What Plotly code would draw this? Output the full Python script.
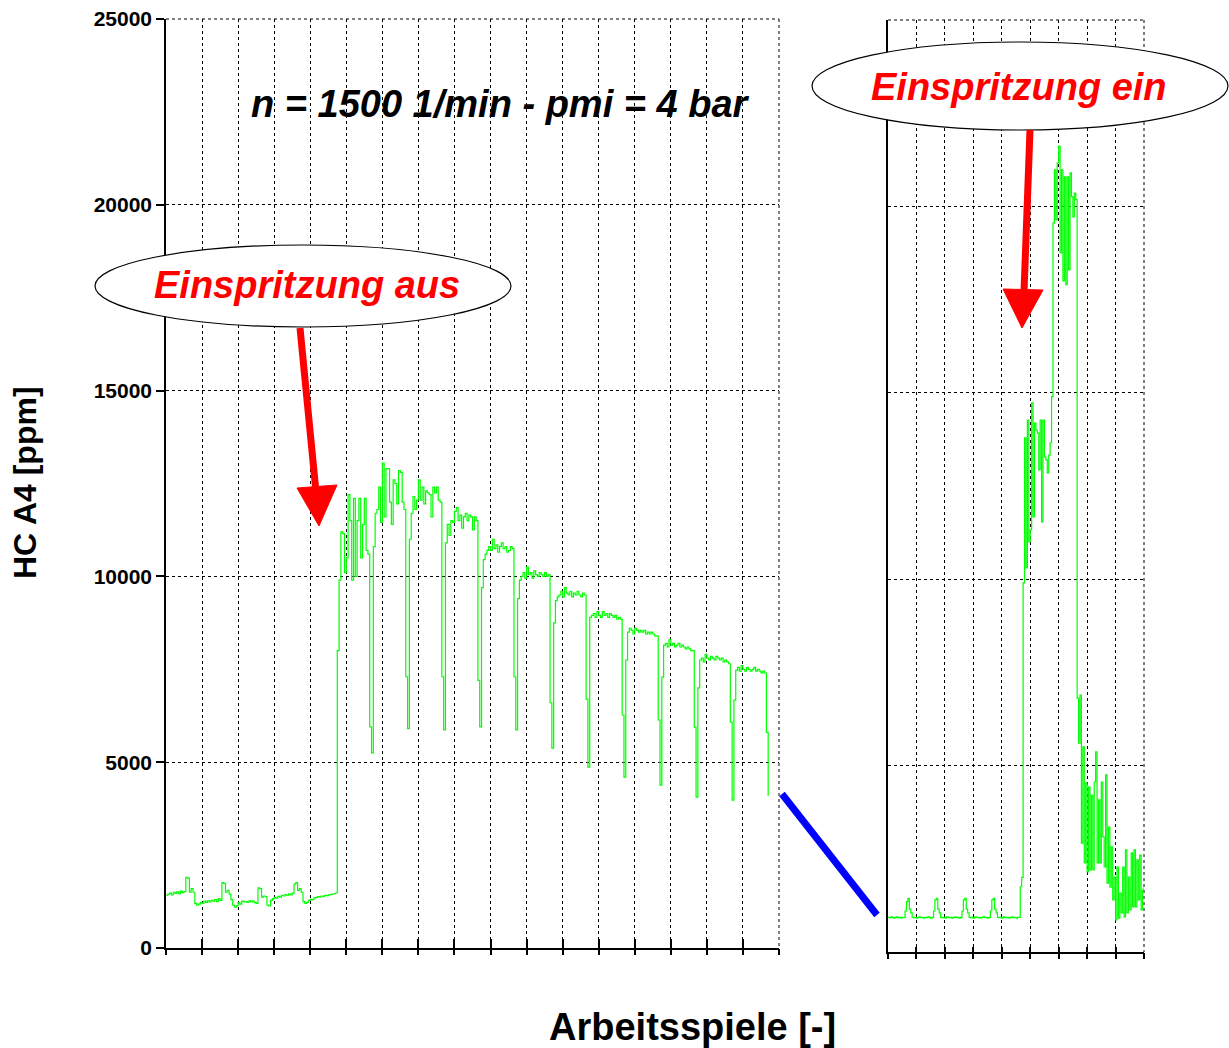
import numpy as np
import plotly.graph_objects as go

W, H = 1229, 1048
FONT = "Liberation Sans, Arial, sans-serif"

# ---------------- data (HC A4 in ppm, one value every 0.5 cycle units) ----------------
# left panel: "Einspritzung aus"
hc_aus = [
    # baseline before injection cut-off
    1420, 1450, 1480, 1430, 1500, 1470, 1510, 1460, 1530, 1490,
    1520, 1900, 1880, 1500, 1600, 1500, 1200, 1150, 1180, 1230,
    1200, 1260, 1230, 1270, 1240, 1280, 1260, 1300, 1250, 1330,
    1280, 1760, 1740, 1500, 1550, 1450, 1300, 1150, 1100, 1140,
    1220, 1180, 1260, 1240, 1250, 1230, 1270, 1240, 1260, 1220,
    1200, 1620, 1600, 1370, 1400, 1380, 1150, 1130, 1280, 1330,
    1360, 1340, 1390, 1370, 1420, 1400, 1440, 1420, 1460, 1430,
    1480, 1720, 1760, 1550, 1600, 1500, 1250, 1200, 1230, 1280,
    1310, 1300, 1350, 1360, 1380, 1370, 1400, 1390, 1420, 1410,
    1430, 1440, 1450, 1460, 1480,
    # block 1
    8000, 9900, 11200, 11150, 10100, 10500, 12200, 11500, 9900, 12100,
    10000, 11500, 12100, 10500, 11400, 12100, 10700, 10600, 5950, 5250,
    # block 2
    10800, 11700, 11800, 12400, 11450, 13050, 11600, 12900, 12900, 12000,
    11400, 12600, 12500, 11950, 12850, 12800, 12000, 11800, 7300, 5900,
    # block 3
    11000, 11700, 12150, 11800, 12050, 12600, 12050, 12400, 11950, 12300,
    12250, 12200, 11600, 12400, 12250, 12400, 12050, 12000, 7300, 5870,
    # block 4
    10900, 11400, 11100, 11500, 11450, 11750, 11850, 11500, 11650, 11300,
    11600, 11700, 11500, 11650, 11600, 11250, 11600, 11500, 7200, 5950,
    # block 5
    9700, 10450, 10600, 10700, 10800, 10700, 11000, 10750, 10850, 10650,
    10800, 10900, 10750, 10800, 10650, 10700, 10800, 10750, 7300, 5870,
    # block 6
    9400, 9900, 10000, 10100, 9950, 10250, 10050, 10100, 9950, 10150,
    10050, 10000, 10100, 10050, 10000, 10100, 10000, 10050, 6600, 5380,
    # block 7
    8750, 9350, 9450, 9500, 9600, 9450, 9700, 9550, 9500, 9600,
    9450, 9550, 9500, 9600, 9500, 9450, 9550, 9500, 6700, 4870,
    # block 8
    8900, 8950, 9000, 8900, 9050, 8950, 8900, 9050, 8950, 9000,
    8900, 9000, 8950, 8900, 8950, 8850, 8900, 8850, 6270, 4600,
    # block 9
    7750, 8500, 8600, 8550, 8450, 8600, 8550, 8500, 8550, 8500,
    8550, 8450, 8500, 8450, 8500, 8450, 8400, 8400, 6135, 4385,
    # block 10
    7290, 8150, 8200, 8100, 8300, 8150, 8200, 8100, 8150, 8200,
    8100, 8150, 8100, 8050, 8100, 8050, 8000, 8000, 5945, 4060,
    # block 11
    7000, 7750, 7800, 7700, 7900, 7800, 7750, 7850, 7800, 7750,
    7850, 7800, 7750, 7800, 7700, 7750, 7700, 7650, 6080, 3980,
    # block 12
    6670, 7480, 7550, 7450, 7600, 7500, 7450, 7550, 7500, 7450,
    7500, 7550, 7450, 7500, 7450, 7400, 7450, 7400, 5800, 4100,
]

# right panel: "Einspritzung ein"
hc_ein = [
    930, 920, 940, 930, 910, 930, 940, 920, 930, 910,
    930, 930, 1100, 1350, 1440, 1150, 1050, 930,
    920, 930, 910, 930, 940, 920, 930, 910, 930, 920, 940, 930, 910, 930,
    1100, 1400, 1440, 1150, 1050,
    930, 920, 930, 910, 940, 930, 920, 930, 910, 930, 940, 920, 930, 910, 930,
    1100, 1400, 1440, 1150, 1050,
    930, 920, 930, 910, 940, 930, 920, 930, 910, 930, 940, 920, 930, 910, 930,
    1100, 1400, 1440, 1150, 1050,
    930, 920, 930, 910, 940, 930, 920, 930, 910, 930, 940, 920, 930, 910, 930, 930,
    1750, 2000, 9900,
    13790, 10300, 14270, 11000, 11320, 14730, 11670, 14190, 14000, 13920,
    12930, 14270, 11540, 14270, 13280, 13200, 12850, 13330, 13660, 14900,
    19560, 20980, 19640, 21170, 21620, 18750, 20980, 18000, 20790, 17900,
    20790, 18300, 20900, 20260, 19720, 20360, 20180,
    6810, 5600, 6890, 2920, 5500, 2390, 4530, 2150, 4430, 2200,
    4200, 2200, 4560, 5370, 2390, 4080, 2390, 4560, 3090, 2280,
    4750, 1850, 3350, 1740, 2820, 1400, 2010, 860, 2280, 910,
    1580, 1050, 2280, 940, 2740, 1050, 2010, 1130, 2660, 1210,
    2740, 1210, 2470, 1400, 2600, 1130, 1660, 1740,
]

x_aus = np.arange(len(hc_aus)) * 0.5
x_ein = np.arange(len(hc_ein)) * 0.5

y_ticks = [0, 5000, 10000, 15000, 20000, 25000]
y_ticktext = ["0", "5000", "10000", "15000", "20000", "25000"]

title_text = "n = 1500 1/min - pmi = 4 bar"
label_aus = "Einspritzung aus"
label_ein = "Einspritzung ein"
x_title = "Arbeitsspiele [-]"
y_title = "HC A4 [ppm]"

# ---------------- helpers for paper positions ----------------
def px(v):
    return v / W

def py(v):
    return 1 - v / H

GREEN = "#00FF00"

fig = go.Figure()
fig.add_trace(go.Scatter(x=x_aus, y=hc_aus, mode="lines", line=dict(color=GREEN, width=1.2, shape="hv"),
                         xaxis="x", yaxis="y", showlegend=False, hoverinfo="skip"))
fig.add_trace(go.Scatter(x=x_ein, y=hc_ein, mode="lines", line=dict(color=GREEN, width=1.2, shape="hv"),
                         xaxis="x2", yaxis="y2", showlegend=False, hoverinfo="skip"))
# dummy traces for overlay tick axes
fig.add_trace(go.Scatter(x=[None], y=[None], xaxis="x3", yaxis="y", showlegend=False))
fig.add_trace(go.Scatter(x=[None], y=[None], xaxis="x4", yaxis="y2", showlegend=False))

grid = dict(showgrid=True, gridcolor="black", gridwidth=1, griddash="dot", zeroline=False, automargin=False)

fig.update_layout(
    width=W, height=H,
    margin=dict(l=0, r=0, t=0, b=0, pad=0, autoexpand=False),
    paper_bgcolor="white", plot_bgcolor="white",
    showlegend=False,
    xaxis=dict(domain=[px(166), px(779)], range=[0, 170], dtick=10, tick0=0,
               ticks="inside", ticklen=9, tickwidth=1.5, tickcolor="black",
               showline=True, linecolor="black", linewidth=1.5,
               showticklabels=False, anchor="y", **grid),
    yaxis=dict(domain=[py(948), py(19)], range=[0, 25000], tickvals=y_ticks, ticktext=y_ticktext,
               ticks="outside", ticklen=8, tickwidth=1.5, tickcolor="black",
               showline=True, linecolor="black", linewidth=1.5,
               tickfont=dict(family=FONT, size=21, color="black", weight="bold"),
               anchor="x", **grid),
    xaxis2=dict(domain=[px(888), px(1144)], range=[0, 90], dtick=10, tick0=0,
                ticks="inside", ticklen=5, tickwidth=1.5, tickcolor="black",
                showline=True, linecolor="black", linewidth=1.5,
                showticklabels=False, anchor="y2", **grid),
    yaxis2=dict(domain=[py(952), py(20)], range=[0, 25000], tickvals=y_ticks,
                ticks="", showticklabels=False,
                showline=True, linecolor="black", linewidth=1.5,
                anchor="x2", **grid),
    xaxis3=dict(overlaying="x", anchor="y", range=[0, 170], dtick=10, tick0=0,
                ticks="outside", ticklen=6, tickwidth=1.5, tickcolor="black", automargin=False,
                showline=False, showgrid=False, zeroline=False, showticklabels=False, side="bottom"),
    xaxis4=dict(overlaying="x2", anchor="y2", range=[0, 90], dtick=10, tick0=0,
                ticks="outside", ticklen=6, tickwidth=1.5, tickcolor="black", automargin=False,
                showline=False, showgrid=False, zeroline=False, showticklabels=False, side="bottom"),
)

shapes = []
# dotted frame edges (top / right) of both panels
for (xa, xb, yt, yb) in [(166, 779, 19, 948), (888, 1144, 20, 952)]:
    shapes.append(dict(type="line", xref="paper", yref="paper",
                       x0=px(xa), x1=px(xb), y0=py(yt), y1=py(yt),
                       line=dict(color="black", width=1, dash="dot"), layer="below"))
    shapes.append(dict(type="line", xref="paper", yref="paper",
                       x0=px(xb), x1=px(xb), y0=py(yt), y1=py(yb),
                       line=dict(color="black", width=1, dash="dot"), layer="below"))
# connecting blue line
shapes.append(dict(type="line", xref="paper", yref="paper",
                   x0=px(782), y0=py(794), x1=px(877), y1=py(915),
                   line=dict(color="#0000FF", width=7), layer="above"))
# ellipses
shapes.append(dict(type="circle", xref="paper", yref="paper",
                   x0=px(95), x1=px(511), y0=py(327), y1=py(245),
                   fillcolor="white", line=dict(color="black", width=1.2), layer="above"))
shapes.append(dict(type="circle", xref="paper", yref="paper",
                   x0=px(812), x1=px(1228), y0=py(130), y1=py(42),
                   fillcolor="white", line=dict(color="black", width=1.2), layer="above"))
# red arrows
shapes.append(dict(type="line", xref="paper", yref="paper",
                   x0=px(300), y0=py(328), x1=px(316), y1=py(492),
                   line=dict(color="#FF0000", width=7), layer="above"))
shapes.append(dict(type="path", xref="paper", yref="paper",
                   path=f"M {px(297)} {py(488)} L {px(337)} {py(485)} L {px(319)} {py(526)} Z",
                   fillcolor="#FF0000", line=dict(color="#FF0000", width=1), layer="above"))
shapes.append(dict(type="line", xref="paper", yref="paper",
                   x0=px(1030), y0=py(130), x1=px(1024), y1=py(292),
                   line=dict(color="#FF0000", width=7), layer="above"))
shapes.append(dict(type="path", xref="paper", yref="paper",
                   path=f"M {px(1003)} {py(289)} L {px(1043)} {py(290)} L {px(1022)} {py(328)} Z",
                   fillcolor="#FF0000", line=dict(color="#FF0000", width=1), layer="above"))
fig.update_layout(shapes=shapes)

ann = []
ann.append(dict(text=f"<b><i>{title_text}</i></b>", xref="paper", yref="paper",
                x=px(500), y=py(104), xanchor="center", yanchor="middle", showarrow=False,
                font=dict(family=FONT, size=38, color="black")))
ann.append(dict(text=f"<b><i>{label_aus}</i></b>", xref="paper", yref="paper",
                x=px(307), y=py(285), xanchor="center", yanchor="middle", showarrow=False,
                font=dict(family=FONT, size=38, color="#FF0000")))
ann.append(dict(text=f"<b><i>{label_ein}</i></b>", xref="paper", yref="paper",
                x=px(1019), y=py(87), xanchor="center", yanchor="middle", showarrow=False,
                font=dict(family=FONT, size=38, color="#FF0000")))
ann.append(dict(text=f"<b>{x_title}</b>", xref="paper", yref="paper",
                x=px(692), y=py(1027), xanchor="center", yanchor="middle", showarrow=False,
                font=dict(family=FONT, size=38, color="black")))
ann.append(dict(text=f"<b>{y_title}</b>", xref="paper", yref="paper",
                x=px(25), y=py(483), xanchor="center", yanchor="middle", showarrow=False,
                textangle=-90, font=dict(family=FONT, size=32, color="black")))
fig.update_layout(annotations=ann)

fig.write_html("out.html", config={"displayModeBar": False},
               post_script="document.body.style.margin='0';")
